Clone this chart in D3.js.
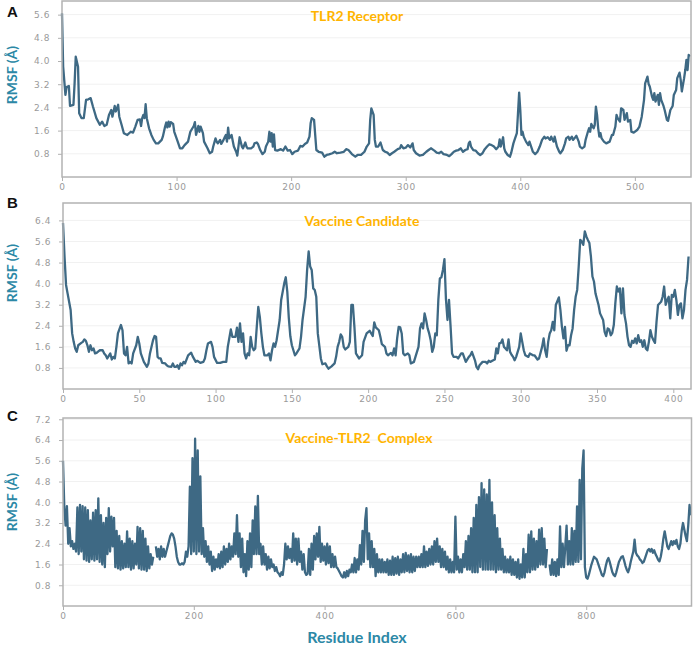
<!DOCTYPE html>
<html><head><meta charset="utf-8">
<script src="https://cdn.jsdelivr.net/npm/d3@7"></script>
<style>body{margin:0;background:#fff}svg{display:block}</style>
</head><body>
<svg id="chart" width="697" height="645"></svg>
<script>
// ---------- Panel A: TLR2 Receptor ----------
const resA = [0,1,3,4,6,7,10,11,12,14,15,17,19,21,23,25,27,30,33,35,37,39,41,43,44,46,47,49,50,52,54,57,60,62,64,66,68,69,70,71,72,73,74,76,78,80,82,84,87,88,90,91,92,93,94,95,97,98,101,103,105,107,110,112,115,116,117,119,120,121,123,124,127,129,131,132,134,135,136,138,139,141,142,143,144,145,146,148,150,152,153,154,155,157,158,160,161,162,165,167,168,170,171,173,175,177,178,180,181,182,183,184,185,186,188,191,193,195,197,199,201,203,206,208,210,212,214,216,217,218,220,221,222,224,227,229,231,233,236,238,240,243,246,248,250,253,256,258,261,264,266,268,269,270,272,273,274,276,278,280,282,284,286,288,290,293,295,296,298,300,302,304,306,307,309,312,315,318,320,322,325,327,329,331,333,336,338,340,342,344,346,348,350,352,354,355,356,357,359,361,363,365,367,369,371,373,375,377,379,381,382,383,385,386,387,389,391,392,394,395,397,398,399,400,401,402,403,405,407,408,410,411,413,415,417,419,421,422,424,426,427,429,430,432,434,435,437,439,440,442,443,445,446,448,449,451,452,454,456,457,459,460,461,462,464,465,466,467,468,469,470,471,473,475,478,480,481,483,484,485,487,488,490,491,493,494,496,497,499,502,504,505,506,508,509,511,512,513,515,516,517,518,520,521,522,523,525,526,528,529,531,533,534,536,537,539,540,541,543,544,545,546,547,548];
const rmsfA = [5.65,3.81,2.83,3.1,3.14,2.45,2.49,3.23,4.15,3.8,2.2,2.03,2.03,2.66,2.68,2.72,2.43,2.03,1.8,1.91,1.76,1.8,2.14,2.31,2.08,2.45,2.26,2.49,2.08,1.8,1.51,1.45,1.56,1.53,1.74,1.97,1.99,1.76,2.03,2.14,2.03,2.51,2.03,1.68,1.45,1.28,1.16,1.16,1.28,1.39,1.74,1.88,1.71,1.91,1.74,1.89,1.83,1.56,1.22,0.99,0.99,1.1,1.22,1.56,1.76,1.89,1.45,1.76,1.56,1.74,1.51,1.22,0.99,0.82,0.87,1.05,1.33,1.22,1.16,1.28,1.14,1.28,1.37,1.45,1.22,1.7,1.33,1.45,1.05,0.87,0.74,1.05,1.37,1.05,0.99,1.19,1.05,0.99,0.99,1.05,1.16,1.19,1.14,0.93,0.79,0.87,1.05,1.22,1.56,1.22,1.51,1.05,1.47,0.93,0.91,0.96,0.91,1.05,0.91,0.93,0.79,0.87,0.91,1.07,1.05,1.14,1.19,1.39,1.85,2.03,1.97,1.45,0.93,0.87,0.84,0.7,0.76,0.78,0.82,0.87,0.82,0.84,0.87,0.96,0.93,0.79,0.7,0.76,0.76,0.87,1.05,1.16,1.97,2.37,2.14,1.28,1.05,1.05,1.19,0.93,0.87,0.84,0.76,0.82,0.87,0.96,0.99,1.1,0.99,1.01,1.1,1.02,1.16,0.93,0.82,0.74,0.76,0.87,0.93,0.99,0.91,0.84,0.82,0.87,0.79,0.76,0.72,0.79,0.87,0.91,0.93,0.99,0.87,0.93,0.96,1.16,1.22,1.05,0.93,0.91,0.82,0.76,0.82,0.96,1.05,1.13,1.1,1.05,0.96,1.05,1.3,1.05,1.37,0.99,0.87,0.76,0.7,0.82,1.16,1.28,1.51,2.2,2.91,2.31,1.45,1.56,1.39,1.22,1.1,1.22,0.99,0.87,0.79,0.87,1.05,1.28,1.39,1.33,1.37,1.28,1.39,1.22,1.39,1.05,0.87,0.82,0.93,1.16,1.33,1.39,1.28,1.39,1.28,1.37,1.42,1.22,1.05,0.99,1.05,1.28,1.56,1.68,1.56,1.83,1.68,1.8,2.43,2.14,1.68,1.39,1.51,1.33,1.22,1.16,1.22,1.45,1.45,1.74,2.14,2.03,1.91,2.37,2.31,1.97,2.2,1.91,1.97,1.56,1.53,1.62,1.74,1.91,2.08,2.66,3.23,3.46,3.21,3.12,2.77,2.66,2.89,2.6,2.83,2.49,2.89,2.66,2.45,2.31,1.97,1.94,2.31,2.45,2.83,3.0,3.41,3.6,3.35,2.95,3.41,3.69,4.04,3.69,4.21,4.15];

// ---------- Panel B: Vaccine Candidate ----------
const resB = [0,1,2,3,5,6,7,8,9,10,12,13,14,15,16,17,18,19,20,21,22,24,26,27,28,29,31,32,33,34,35,36,38,39,40,41,42,43,44,45,46,48,49,50,51,53,55,56,57,59,60,61,62,63,64,65,67,68,69,71,72,73,74,75,76,77,78,79,80,82,84,85,87,88,90,92,93,94,95,97,98,99,101,103,105,107,108,110,111,113,114,115,116,117,118,119,120,121,122,123,124,125,126,127,128,129,130,131,132,134,135,136,137,138,139,140,142,143,145,146,147,148,149,150,152,153,155,156,157,159,160,161,162,163,164,165,166,167,169,170,172,173,174,176,178,179,180,181,182,183,184,185,187,188,189,190,191,192,194,196,197,199,201,202,203,204,205,207,208,209,211,212,213,215,216,217,218,219,220,221,222,223,224,226,227,228,230,231,233,234,235,236,237,238,239,240,241,242,243,244,245,246,247,248,249,250,251,252,253,254,255,256,258,259,261,262,264,266,267,268,270,271,272,273,275,277,278,279,280,282,283,284,285,286,287,288,289,290,291,292,293,294,295,296,297,299,300,301,302,303,305,306,308,309,311,312,314,315,316,317,318,319,320,321,322,323,325,326,327,328,329,330,331,332,333,334,335,336,337,338,339,340,341,342,343,344,345,346,347,348,349,351,352,354,355,356,357,358,359,360,361,362,363,364,365,366,367,368,369,370,371,372,373,374,375,376,377,378,379,380,381,382,383,384,385,386,387,388,389,390,392,393,394,395,396,397,398,399,400,401,402,403,404,405,406,407,408,409,410];
const rmsfB = [6.3,5.03,3.95,3.63,3.0,2.11,1.79,1.54,1.41,1.66,1.75,1.79,1.88,1.83,1.66,1.41,1.66,1.47,1.54,1.35,1.37,1.47,1.47,1.35,1.28,1.16,1.35,1.12,1.22,1.16,1.6,2.11,2.43,2.23,1.35,1.28,1.6,0.97,1.03,0.97,1.35,1.66,1.98,1.73,1.35,1.03,0.84,0.97,1.35,1.85,2.01,1.98,1.22,1.16,1.16,0.99,0.97,0.9,0.86,0.84,0.97,0.84,0.84,0.9,0.77,0.97,0.9,1.03,0.97,1.28,1.38,1.24,1.03,1.07,0.99,1.03,1.16,1.47,1.73,1.79,1.6,1.22,0.99,0.99,1.03,1.03,1.6,2.26,1.98,1.98,2.33,1.79,2.49,1.79,2.11,1.35,1.16,1.35,1.28,1.98,1.6,1.47,1.54,2.36,3.12,2.74,2.11,1.6,1.28,1.28,1.35,1.09,1.47,1.73,1.6,1.85,2.62,3.38,4.01,4.24,3.7,2.7,2.0,1.66,1.28,1.35,1.54,1.98,2.62,3.5,4.52,5.22,4.65,4.52,3.82,3.76,3.5,2.11,1.16,0.94,0.97,0.86,0.77,0.86,0.97,1.22,1.6,1.79,2.07,1.98,1.6,1.5,1.6,1.79,3.19,3.19,2.36,1.35,1.16,1.28,1.79,2.11,2.21,2.11,2.01,2.53,2.34,2.23,1.98,1.7,1.6,1.35,1.28,1.37,1.28,1.54,1.28,1.92,2.36,2.34,2.11,1.35,1.28,1.35,1.28,0.97,1.03,1.22,1.6,2.3,2.49,2.3,2.87,2.62,2.3,2.11,1.85,1.41,1.6,2.11,2.04,3.38,4.2,4.24,4.52,4.93,3.4,2.62,3.38,2.4,1.35,1.22,1.22,1.16,1.35,1.35,1.03,1.22,1.28,1.41,1.09,0.84,0.75,0.9,1.03,1.03,0.97,1.07,1.03,1.09,1.12,1.54,1.35,1.73,1.75,1.88,1.6,1.54,1.47,1.88,1.41,1.3,1.22,1.09,1.22,1.6,2.11,1.79,1.47,1.28,1.22,1.35,1.28,1.28,1.12,1.16,1.6,1.92,1.47,1.22,1.79,2.11,2.23,2.55,2.23,3.19,3.48,3.0,2.36,1.92,2.36,1.45,1.66,1.66,2.04,2.3,3.0,3.5,3.76,4.65,5.66,5.6,5.47,5.98,5.79,5.66,5.54,5.03,4.27,4.08,3.63,3.19,2.87,2.62,2.17,2.01,2.3,2.26,2.04,2.13,2.43,3.25,3.89,3.7,3.82,2.87,3.82,2.81,2.49,1.98,1.66,1.6,1.83,1.75,1.92,1.73,2.04,1.79,1.85,1.6,1.85,1.54,1.47,1.79,2.23,1.98,1.85,1.75,2.55,3.19,3.31,3.5,3.89,3.19,3.38,3.5,2.68,3.57,3.5,3.76,3.38,2.81,3.19,3.25,2.68,3.0,3.76,4.14,5.03];

// ---------- Panel C: Vaccine-TLR2 Complex (one value every 2 residues; null = break) ----------
const complexStep = 2;
const rmsfC = [
  5.6,3.8,3.1,3.85,2.4,3.0,2.3,2.5,2.2,2.4,
  2.1,3.8,2.0,3.9,2.1,3.85,1.8,3.8,1.75,3.7,
  1.7,3.3,1.8,3.6,1.75,3.7,1.8,4.15,1.7,3.5,
  1.6,3.2,1.5,3.4,2.0,3.77,2.1,3.45,2.3,3.4,
  1.5,2.9,1.45,2.7,1.4,2.5,1.45,2.4,1.5,2.88,
  1.5,2.6,1.4,2.5,1.45,2.4,1.6,3.05,1.45,3.0,
  1.4,2.9,1.4,2.6,1.35,2.3,1.45,2.0,1.6,1.9,
  null,2.3,1.9,2.2,1.8,2.3,1.9,2.2,1.9,2.1,
  2.3,2.5,2.7,2.8,2.75,2.6,2.3,1.9,1.7,1.6,
  1.6,1.65,1.6,1.7,2.1,1.9,2.3,4.6,2.0,5.7,
  2.1,6.45,2.0,6.0,2.1,5.0,2.0,3.0,1.9,2.5,
  1.7,2.3,1.6,2.1,1.35,1.9,1.4,1.8,1.5,2.0,
  1.45,2.1,1.5,2.3,1.6,2.2,1.7,2.4,1.8,2.3,
  1.9,2.8,2.0,3.5,1.9,2.8,1.5,2.6,1.3,2.0,
  1.15,2.5,1.4,2.8,1.5,3.3,2.0,3.84,2.0,4.25,
  2.0,2.4,1.6,2.3,1.6,2.0,1.4,1.9,1.45,1.8,
  1.5,1.6,1.35,1.5,1.3,1.25,1.15,1.3,1.2,1.6,
  2.4,1.8,2.3,1.85,2.2,1.7,2.8,1.75,2.6,1.6,
  2.6,1.7,2.1,1.4,2.0,1.3,1.2,1.25,2.2,1.2,
  2.4,1.4,2.7,1.8,2.8,1.9,3.05,1.7,2.4,1.75,
  2.3,1.6,2.4,1.65,2.3,1.5,2.0,1.5,1.9,1.5,
  1.45,1.35,1.25,1.15,1.1,1.3,1.1,1.35,1.15,1.4,
  1.3,1.6,1.3,1.85,1.3,1.8,1.4,2.35,1.6,2.9,
  1.7,3.3,3.77,1.8,2.8,1.5,2.5,1.5,2.2,1.15,
  2.0,1.3,1.8,1.3,1.8,1.3,1.7,1.3,1.8,1.2,
  1.75,1.2,1.9,1.2,1.85,1.25,1.9,1.2,1.8,1.3,
  2.0,1.3,2.05,1.35,1.95,1.3,2.0,1.3,1.9,1.35,
  1.9,1.5,1.9,1.5,2.0,1.5,2.3,1.5,2.1,1.55,
  2.2,1.6,2.3,1.6,2.5,1.7,2.6,1.7,2.3,1.5,
  2.2,1.5,2.1,1.4,1.9,1.3,1.8,1.3,1.7,1.3,
  3.45,1.4,1.9,1.3,1.8,1.3,2.0,1.5,2.5,1.4,
  2.7,1.4,3.0,1.3,3.4,1.3,3.9,1.3,4.2,1.5,
  4.74,1.4,4.5,1.4,4.3,1.4,4.86,1.4,4.0,1.4,
  3.5,1.3,3.0,1.4,2.6,1.4,2.2,1.3,1.9,1.3,
  1.8,1.3,1.9,1.2,1.8,1.2,1.7,1.1,1.8,1.05,
  1.6,1.1,2.2,1.1,2.0,1.3,2.75,1.3,2.88,1.4,
  2.6,1.4,2.5,1.5,2.94,1.6,3.0,1.6,2.6,1.5,
  2.2,null,1.6,1.2,1.8,1.2,1.7,1.15,1.8,1.2,
  3.07,1.5,2.4,1.5,2.3,3.1,1.6,2.5,1.6,3.0,
  1.6,2.9,1.7,3.84,1.7,4.86,1.8,5.3,6.0,1.5,
  1.1,1.05,1.2,1.4,1.6,1.75,1.9,1.85,1.8,1.65,
  1.5,1.35,1.2,1.15,1.3,1.55,1.75,1.85,1.7,1.5,
  1.3,1.2,1.15,1.3,1.5,1.7,1.8,1.9,1.92,1.75,
  1.55,1.4,1.3,1.45,1.7,1.9,2.1,2.56,2.05,1.95,
  1.9,1.8,1.75,1.66,1.7,1.85,2.0,2.15,2.2,2.1,
  2.2,2.05,2.15,2.0,1.9,1.78,1.72,1.9,2.2,2.6,
  2.88,2.6,2.3,2.2,2.35,2.5,2.35,2.5,2.4,2.55,
  2.3,2.2,2.4,2.9,3.2,2.95,2.7,2.5,3.1,3.9,
  3.5
];

// ---------- Axis ticks ----------
const xTicksA = [0,100,200,300,400,500];
const yTicksA = [0.8,1.6,2.4,3.2,4.0,4.8,5.6];
const xTicksB = [0,50,100,150,200,250,300,350,400];
const yTicksB = [0.8,1.6,2.4,3.2,4.0,4.8,5.6,6.4];
const xTicksC = [0,200,400,600,800];
const yTicksC = [0.8,1.6,2.4,3.2,4.0,4.8,5.6,6.4,7.2];

const titles = ["TLR2 Receptor","Vaccine Candidate","Vaccine-TLR2  Complex"];
const letters = ["A","B","C"];

const dataA = resA.map((r,i)=>({r, v:rmsfA[i]}));
const dataB = resB.map((r,i)=>({r, v:rmsfB[i]}));
const dataC = rmsfC.map((v,i)=>({r:i*complexStep, v}));

const panels = [
  {data:dataA, xMax:549, yMax:6.07, xt:xTicksA, yt:yTicksA, box:{l:62,r:691,t:1,b:177},
   letterY:17, titleY:21, titleX:357, yTitleY:75, lw:2.3},
  {data:dataB, xMax:411.6, yMax:7.06, xt:xTicksB, yt:yTicksB, box:{l:63,r:691,t:203,b:389},
   letterY:208, titleY:226, titleX:362, yTitleY:273, lw:2.3},
  {data:dataC, xMax:961, yMax:7.25, xt:xTicksC, yt:yTicksC, box:{l:63,r:691.5,t:418,b:606},
   letterY:421, titleY:443, titleX:359, yTitleY:502, lw:2.3}
];

const svg = d3.select("#chart");
svg.append("rect").attr("width",697).attr("height",645).attr("fill","#fff");

const lineColor = "#3e6984";
const teal = "#2c88a6";
const orange = "#ffb400";

panels.forEach((p,k)=>{
  const b = p.box;
  const x = d3.scaleLinear().domain([0,p.xMax]).range([b.l,b.r]);
  const y = d3.scaleLinear().domain([0,p.yMax]).range([b.b,b.t]);
  const g = svg.append("g");

  g.append("g").selectAll("line").data(p.yt).join("line")
    .attr("x1",b.l).attr("x2",b.r).attr("y1",d=>y(d)).attr("y2",d=>y(d))
    .attr("stroke","#f1f1f1").attr("stroke-width",1);

  const ya = g.append("g").attr("transform",`translate(${b.l},0)`)
    .call(d3.axisLeft(y).tickValues(p.yt).tickSize(4).tickPadding(8).tickFormat(d3.format(".1f")));
  const xa = g.append("g").attr("transform",`translate(0,${b.b})`)
    .call(d3.axisBottom(x).tickValues(p.xt).tickSize(4).tickPadding(3).tickFormat(d3.format("d")));
  [ya,xa].forEach(a=>{
    a.select(".domain").remove();
    a.selectAll(".tick line").attr("stroke","#b0b0b0");
    a.selectAll(".tick text").attr("fill","#9a9a9a")
      .style("font-family","'DejaVu Sans', Verdana, sans-serif").style("font-size","9px")
      .style("letter-spacing","0.6px");
  });

  const line = d3.line().defined(d=>d.v!=null).x(d=>x(d.r)).y(d=>y(d.v));
  g.append("path").datum(p.data).attr("d",line)
    .attr("fill","none").attr("stroke",lineColor).attr("stroke-width",p.lw)
    .attr("stroke-linejoin","round");

  g.append("rect").attr("x",b.l).attr("y",b.t).attr("width",b.r-b.l).attr("height",b.b-b.t)
    .attr("fill","none").attr("stroke","#b3b3b3").attr("stroke-width",1.5);

  svg.append("text").attr("x",7).attr("y",p.letterY).text(letters[k])
    .style("font-family","'Liberation Sans', Arial, sans-serif").style("font-weight","bold")
    .style("font-size","15px").attr("fill","#111");

  svg.append("text").attr("x",p.titleX).attr("y",p.titleY).attr("text-anchor","middle")
    .style("white-space","pre").text(titles[k])
    .style("font-family","Lato, 'Open Sans', sans-serif").style("font-weight","bold")
    .style("font-size","14px").attr("fill",orange);

  svg.append("text").attr("transform",`translate(17,${p.yTitleY}) rotate(-90)`)
    .attr("text-anchor","middle").text("RMSF (Å)")
    .style("font-family","Lato, 'Open Sans', sans-serif").style("font-weight","bold")
    .style("font-size","14px").attr("fill",teal);
});

svg.append("text").attr("x",357).attr("y",643).attr("text-anchor","middle").text("Residue Index")
  .style("font-family","Lato, 'Open Sans', sans-serif").style("font-weight","bold")
  .style("font-size","16px").attr("fill",teal);
</script>
</body></html>
